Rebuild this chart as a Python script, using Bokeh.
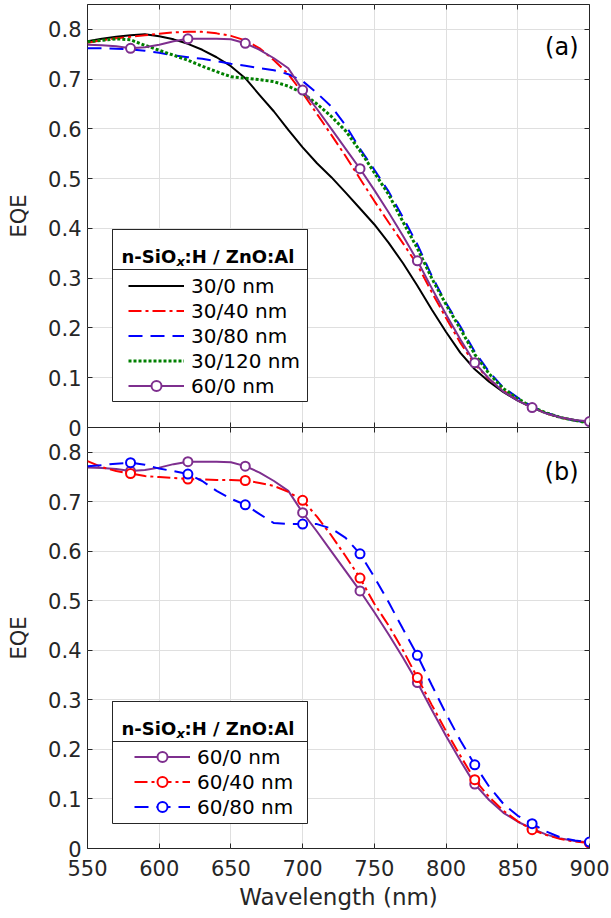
from bokeh.plotting import figure
from bokeh.layouts import column
from bokeh.models import (Range1d, LinearAxis, FixedTicker, CustomJSTickFormatter,
                          Legend, LegendItem, BoxAnnotation, Label)
from bokeh.embed import file_html
from bokeh.resources import INLINE

# ---------------- data ----------------
wavelength = [550, 560, 570, 580, 590, 600, 610, 620, 630, 640, 650, 660,
              670, 680, 690, 700, 710, 720, 730, 740, 750, 760, 770, 780,
              790, 800, 810, 820, 830, 840, 850, 860, 870, 880, 890, 900]

# panel (a)
eqe_30_0 = [0.776, 0.781, 0.785, 0.788, 0.790, 0.786, 0.780, 0.771, 0.759, 0.744, 0.726, 0.702,
            0.668, 0.635, 0.598, 0.563, 0.531, 0.503, 0.472, 0.440, 0.408, 0.371, 0.330, 0.285,
            0.237, 0.192, 0.150, 0.117, 0.092, 0.071, 0.054, 0.040, 0.029, 0.020, 0.014, 0.010]
eqe_30_40 = [0.773, 0.778, 0.782, 0.785, 0.788, 0.791, 0.794, 0.795, 0.795, 0.792, 0.787, 0.778,
             0.762, 0.738, 0.710, 0.672, 0.630, 0.588, 0.545, 0.500, 0.455, 0.412, 0.370, 0.327,
             0.272, 0.220, 0.170, 0.127, 0.097, 0.074, 0.055, 0.040, 0.028, 0.020, 0.014, 0.010]
eqe_30_80 = [0.762, 0.762, 0.761, 0.760, 0.757, 0.753, 0.748, 0.744, 0.741, 0.736, 0.731, 0.727,
             0.722, 0.718, 0.710, 0.696, 0.672, 0.645, 0.607, 0.560, 0.518, 0.474, 0.422, 0.368,
             0.305, 0.250, 0.203, 0.152, 0.112, 0.080, 0.060, 0.042, 0.029, 0.020, 0.014, 0.010]
eqe_30_120 = [0.775, 0.778, 0.781, 0.779, 0.768, 0.758, 0.748, 0.738, 0.726, 0.715, 0.705, 0.702,
              0.699, 0.695, 0.686, 0.672, 0.650, 0.625, 0.596, 0.556, 0.512, 0.468, 0.413, 0.360,
              0.300, 0.247, 0.198, 0.147, 0.108, 0.078, 0.058, 0.041, 0.029, 0.020, 0.014, 0.009]
eqe_60_0 = [0.769, 0.768, 0.766, 0.762, 0.764, 0.769, 0.776, 0.781, 0.781, 0.781, 0.780, 0.772,
            0.759, 0.742, 0.722, 0.678, 0.640, 0.600, 0.560, 0.520, 0.477, 0.432, 0.385, 0.335,
            0.280, 0.227, 0.177, 0.130, 0.098, 0.072, 0.054, 0.040, 0.028, 0.020, 0.015, 0.012]
# panel (b)
eqe_60_40 = [0.782, 0.770, 0.762, 0.757, 0.752, 0.750, 0.748, 0.746, 0.745, 0.744, 0.744, 0.743,
             0.738, 0.732, 0.720, 0.703, 0.670, 0.632, 0.590, 0.546, 0.494, 0.450, 0.400, 0.345,
             0.290, 0.237, 0.187, 0.139, 0.104, 0.076, 0.055, 0.038, 0.027, 0.019, 0.014, 0.011]
eqe_60_80 = [0.772, 0.774, 0.777, 0.779, 0.775, 0.767, 0.762, 0.756, 0.742, 0.722, 0.706, 0.694,
             0.675, 0.657, 0.655, 0.655, 0.655, 0.646, 0.627, 0.595, 0.548, 0.497, 0.443, 0.390,
             0.330, 0.272, 0.218, 0.169, 0.125, 0.090, 0.066, 0.050, 0.034, 0.022, 0.016, 0.013]

marker_start, marker_step = 3, 4   # markers at 580, 620, ..., 900 nm

x_ticks = [550, 600, 650, 700, 750, 800, 850, 900]
y_ticks = [0, 0.1, 0.2, 0.3, 0.4, 0.5, 0.6, 0.7, 0.8]
legend_a_labels = ["30/0 nm", "30/40 nm", "30/80 nm", "30/120 nm", "60/0 nm"]
legend_b_labels = ["60/0 nm", "60/40 nm", "60/80 nm"]
legend_title = ("n-SiO", "x", ":H / ZnO:Al")
panel_labels = ["(a)", "(b)"]
x_label = "Wavelength (nm)"
y_label = "EQE"

# ---------------- styling ----------------
FONT = "DejaVu Sans"
AX = "#262626"
GRID = "#dfdfdf"
PURPLE = "#7e2f8e"
RED = "#ff0000"
BLUE = "#0000ff"
GREEN = "#008000"
FW = 502
FH_A = 423
FH_B = 421
OVERLAP = 14
X0, X1 = 550, 900
Y0, Y1 = 0.0, 0.85
XS = FW / (X1 - X0)


def sx(dx):
    return X0 + dx / XS


def sy(dy, fh):
    return Y0 + dy * (Y1 - Y0) / fh


def style_axis(ax, ticks, show, code):
    ax.ticker = FixedTicker(ticks=ticks, minor_ticks=[])
    ax.axis_line_color = None
    ax.major_tick_in = 5
    ax.major_tick_out = 0
    ax.minor_tick_line_color = None
    ax.major_tick_line_color = AX
    ax.major_tick_line_width = 1
    ax.major_label_text_font = FONT
    ax.major_label_text_color = AX
    if show:
        ax.formatter = CustomJSTickFormatter(code=code)
        ax.major_label_text_font_size = "21px"
    else:
        ax.formatter = CustomJSTickFormatter(code="return '';")
        ax.major_label_text_font_size = "0px"
        ax.major_label_standoff = 0


X_CODE = "return tick.toFixed(0);"
Y_CODE = "return tick.toFixed(1).replace(/\\.0$/, '');"


def make_figure(fh, with_xlabels, top_border, bottom_border):
    p = figure(frame_width=FW, frame_height=fh,
               x_range=Range1d(X0, X1), y_range=Range1d(Y0, Y1),
               output_backend="svg", toolbar_location=None,
               min_border_left=87, min_border_right=22,
               min_border_top=top_border, min_border_bottom=bottom_border,
               outline_line_color=AX, outline_line_width=1, outline_line_alpha=1,
               background_fill_color="white", border_fill_color="white")
    p.add_layout(LinearAxis(), "above")
    p.add_layout(LinearAxis(), "right")
    style_axis(p.below[0], x_ticks, with_xlabels, X_CODE)
    style_axis(p.above[0], x_ticks, False, X_CODE)
    style_axis(p.left[0], y_ticks, True, Y_CODE)
    style_axis(p.right[0], y_ticks, False, Y_CODE)
    p.left[0].major_label_standoff = 6
    p.left[0].axis_label = y_label
    p.left[0].axis_label_text_font = FONT
    p.left[0].axis_label_text_font_size = "21px"
    p.left[0].axis_label_text_font_style = "normal"
    p.left[0].axis_label_text_color = AX
    p.left[0].axis_label_standoff = 14
    if with_xlabels:
        b = p.below[0]
        b.major_label_standoff = 11
        b.axis_label = x_label
        b.axis_label_text_font = FONT
        b.axis_label_text_font_size = "23px"
        b.axis_label_text_font_style = "normal"
        b.axis_label_text_color = AX
        b.axis_label_standoff = 5
    p.xgrid.ticker = FixedTicker(ticks=x_ticks)
    p.ygrid.ticker = FixedTicker(ticks=y_ticks)
    p.xgrid.grid_line_color = GRID
    p.ygrid.grid_line_color = GRID
    return p


def add_legend(p, fh, items, box, sep, loc):
    left, right, bottom, top = box
    p.add_layout(BoxAnnotation(left=sx(left), right=sx(right), bottom=sy(bottom, fh), top=sy(top, fh),
                               fill_color="white", fill_alpha=1, line_color=AX, line_alpha=1, line_width=1))
    p.add_layout(BoxAnnotation(left=sx(left), right=sx(right), bottom=sy(sep, fh), top=sy(top, fh),
                               fill_alpha=0, line_color=AX, line_alpha=1, line_width=1))
    lg = Legend(items=items, location=loc, orientation="vertical",
                padding=0, margin=0, spacing=0,
                glyph_width=56, glyph_height=25, label_height=25, label_standoff=7,
                label_text_font=FONT, label_text_font_size="20px", label_text_color="black",
                border_line_color=None, background_fill_alpha=0)
    p.add_layout(lg)
    base_x = left + 9
    base_y = sep + 13.5
    p.add_layout(Label(x=sx(base_x), y=sy(base_y, fh), text=legend_title[0], text_font=FONT,
                       text_font_size="18px", text_font_style="bold", text_color="black",
                       text_baseline="alphabetic"))
    p.add_layout(Label(x=sx(base_x + 55), y=sy(base_y - 5, fh), text=legend_title[1], text_font=FONT,
                       text_font_size="13px", text_font_style="bold italic", text_color="black",
                       text_baseline="alphabetic"))
    p.add_layout(Label(x=sx(base_x + 63), y=sy(base_y, fh), text=legend_title[2], text_font=FONT,
                       text_font_size="18px", text_font_style="bold", text_color="black",
                       text_baseline="alphabetic"))


mk_wl = wavelength[marker_start::marker_step]

# ---------------- panel (a) ----------------
pa = make_figure(FH_A, False, 4, OVERLAP)
ra_k = pa.line(wavelength, eqe_30_0, line_color="black", line_width=2, line_join="round")
ra_r = pa.line(wavelength, eqe_30_40, line_color=RED, line_width=2, line_dash="13 4 3 4")
ra_b = pa.line(wavelength, eqe_30_80, line_color=BLUE, line_width=2, line_dash="14 8")
ra_g = pa.line(wavelength, eqe_30_120, line_color=GREEN, line_width=3, line_dash="3 2")
ra_p = pa.line(wavelength, eqe_60_0, line_color=PURPLE, line_width=2, line_join="round")
ra_pm = pa.scatter(mk_wl, eqe_60_0[marker_start::marker_step], marker="circle", size=9,
                   line_color=PURPLE, line_width=2, fill_color="white")
items_a = [LegendItem(label=lab, renderers=rs) for lab, rs in
           zip(legend_a_labels, [[ra_k], [ra_r], [ra_b], [ra_g], [ra_p, ra_pm]])]
add_legend(pa, FH_A, items_a, (25, 220, 26, 198), 158, (41, 29))
pa.add_layout(Label(x=sx(491), y=sy(FH_A - 42, FH_A), text=panel_labels[0], text_font=FONT,
                    text_font_size="24px", text_color="black", text_align="right",
                    text_baseline="middle"))

# ---------------- panel (b) ----------------
pb = make_figure(FH_B, True, 0, 0)
pb.border_fill_alpha = 0
pb.margin = (-OVERLAP, 0, 0, 0)
rb_p = pb.line(wavelength, eqe_60_0, line_color=PURPLE, line_width=2, line_join="round")
rb_pm = pb.scatter(mk_wl, eqe_60_0[marker_start::marker_step], marker="circle", size=9,
                   line_color=PURPLE, line_width=2, fill_color="white")
rb_r = pb.line(wavelength, eqe_60_40, line_color=RED, line_width=2, line_dash="13 4 3 4")
rb_rm = pb.scatter(mk_wl, eqe_60_40[marker_start::marker_step], marker="circle", size=9,
                   line_color=RED, line_width=2, fill_color="white")
rb_b = pb.line(wavelength, eqe_60_80, line_color=BLUE, line_width=2, line_dash="14 8")
rb_bm = pb.scatter(mk_wl, eqe_60_80[marker_start::marker_step], marker="circle", size=9,
                   line_color=BLUE, line_width=2, fill_color="white")
items_b = [LegendItem(label=lab, renderers=rs) for lab, rs in
           zip(legend_b_labels, [[rb_p, rb_pm], [rb_r, rb_rm], [rb_b, rb_bm]])]
add_legend(pb, FH_B, items_b, (25, 220, 25, 147), 107, (47, 29))
pb.add_layout(Label(x=sx(491), y=sy(FH_B - 44, FH_B), text=panel_labels[1], text_font=FONT,
                    text_font_size="24px", text_color="black", text_align="right",
                    text_baseline="middle"))

layout = column(pa, pb, spacing=0)
open("out.html", "w").write(file_html(layout, INLINE, title="EQE"))
